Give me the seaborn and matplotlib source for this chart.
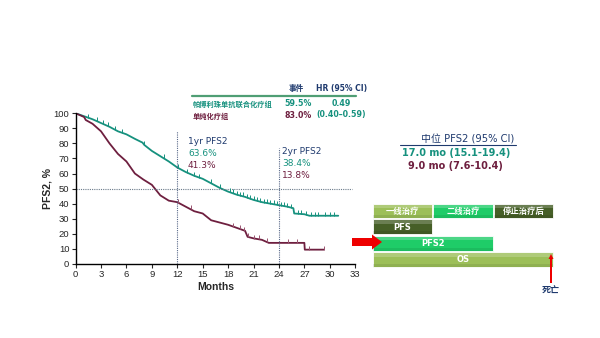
import matplotlib
matplotlib.use("Agg")
import matplotlib.pyplot as plt
import seaborn as sns
import pandas as pd
import numpy as np
from matplotlib.patches import Rectangle, FancyArrow

sns.set_style("white")
plt.rcParams['font.family'] = ['Liberation Sans', 'Noto Sans CJK SC']

TEAL = "#16917e"
MAROON = "#6e1f3f"
NAVY = "#1f3a6e"

# ---- data ----
teal_t = [0, 0.5, 1, 2, 3, 4, 5, 6, 7, 7.9, 8.1, 9, 10, 11, 12, 13, 14, 15, 16, 17, 18, 19, 20, 21, 22, 23, 24, 25, 25.7, 25.8, 27, 27.6, 31]
teal_s = [100, 99, 98, 96, 93.5, 91, 88, 86, 83, 80.5, 79, 75, 71.5, 68, 64, 61, 58.5, 56.5, 53.5, 50.5, 48, 46, 44.5, 42.5, 41, 40, 39, 38, 37, 33.5, 33, 32, 32]
teal_cens = [1.5, 2.5, 3.2, 3.8, 4.6, 5.5, 8.1, 10.4, 12.1, 13.2, 14.0, 14.6, 16.0, 17.0, 18.2, 18.6, 19.0, 19.4, 19.8, 20.2, 20.6, 21.0, 21.4, 21.8, 22.2, 22.6, 23.0, 23.4, 23.8, 24.2, 24.6, 25.0, 25.4, 26.2, 26.6, 27.2, 27.8, 28.2, 28.6, 29.4, 30.0, 30.5]
mar_t = [0, 1, 1.2, 2, 3, 4, 5, 6, 7, 8, 9, 9.5, 10, 11, 12, 12.5, 13, 14, 15, 16, 17, 18, 19, 20, 20.3, 21, 22, 22.8, 27, 27.05, 29.3]
mar_s = [100, 97.5, 95.5, 93, 88, 80, 73, 68, 60, 56, 52.5, 49, 45.5, 42, 41, 39.5, 38, 35, 33.5, 29, 27.5, 26, 24, 22, 18, 17, 16, 14, 14, 9.5, 9.5]
mar_cens = [12.1, 13.6, 18.6, 19.4, 19.9, 20.3, 21.1, 21.6, 22.6, 25.1, 26.1, 27.6, 29.3]

x_ticks = list(range(0, 34, 3))
y_ticks = list(range(0, 101, 10))


def curve_val(t, s, x):
    return float(np.interp(x, t, s))


fig = plt.figure(figsize=(6, 3.38), dpi=100)
ax = fig.add_axes([0.126, 0.219, 0.466, 0.446])

df_t = pd.DataFrame({"t": teal_t, "s": teal_s})
df_m = pd.DataFrame({"t": mar_t, "s": mar_s})
sns.lineplot(data=df_t, x="t", y="s", color=TEAL, lw=1.3, ax=ax, sort=False, estimator=None)
sns.lineplot(data=df_m, x="t", y="s", color=MAROON, lw=1.3, ax=ax, sort=False, estimator=None)

dct = pd.DataFrame({"t": teal_cens, "s": [curve_val(teal_t, teal_s, c) for c in teal_cens]})
dcm = pd.DataFrame({"t": mar_cens, "s": [curve_val(mar_t, mar_s, c) for c in mar_cens]})
ax.scatter(dct.t, dct.s + 1.3, marker="|", s=12, color=TEAL, lw=0.7, zorder=3)
ax.scatter(dcm.t, dcm.s + 1.3, marker="|", s=12, color="#9a5470", lw=0.7, zorder=3)

# reference lines
ax.plot([12, 12], [0, 88], ls=(0, (1, 1)), color="#5a6a8a", lw=0.8)
ax.plot([24, 24], [0, 77], ls=(0, (1, 1)), color="#5a6a8a", lw=0.8)
ax.plot([0, 32.6], [50, 50], ls=(0, (1, 1)), color="#6a7a8a", lw=0.8)

ax.set_xlim(0, 33)
ax.set_ylim(0, 100)
ax.set_xticks(x_ticks)
ax.set_yticks(y_ticks)
ax.tick_params(axis='both', labelsize=6.8, length=3, width=0.8, direction='out', pad=1.5)
ax.tick_params(axis='both', which='both', bottom=True, left=True)
sns.despine(ax=ax)
for sp in ["left", "bottom"]:
    ax.spines[sp].set_linewidth(1.0)
    ax.spines[sp].set_color("black")
ax.set_xlabel("Months", fontsize=7.5, fontweight="bold", labelpad=2)
ax.set_ylabel("PFS2, %", fontsize=7.5, fontweight="bold", labelpad=1)

# overlay axes in pixel coordinates
ov = fig.add_axes([0, 0, 1, 1], zorder=5)
ov.set_xlim(0, 600)
ov.set_ylim(338, 0)
ov.axis("off")
ov.patch.set_alpha(0)

fam = ['DejaVu Sans', 'Noto Sans CJK SC']
# annotations
ov.text(188, 141, "1yr PFS2", color=NAVY, fontsize=6.5, va="center", family=fam)
ov.text(188, 154, "63.6%", color=TEAL, fontsize=6.5, va="center", family=fam)
ov.text(188, 166, "41.3%", color=MAROON, fontsize=6.5, va="center", family=fam)
ov.text(282, 152, "2yr PFS2", color=NAVY, fontsize=6.5, va="center", family=fam)
ov.text(282, 164, "38.4%", color=TEAL, fontsize=6.5, va="center", family=fam)
ov.text(282, 176, "13.8%", color=MAROON, fontsize=6.5, va="center", family=fam)

# table
ov.text(296, 89, "事件", color=NAVY, fontsize=5.5, fontweight="bold", ha="center", va="center", family=fam)
ov.text(342, 89, "HR (95% CI)", color=NAVY, fontsize=5.5, fontweight="bold", ha="center", va="center", family=fam)
ov.plot([192, 356], [96, 96], color="#4f9e74", lw=1.6)
ov.text(193, 104, "帕博利珠单抗联合化疗组", color=TEAL, fontsize=5.2, fontweight="bold", va="center", family=fam)
ov.text(298, 104, "59.5%", color=TEAL, fontsize=5.7, fontweight="bold", ha="center", va="center", family=fam)
ov.text(341, 104, "0.49", color=TEAL, fontsize=5.7, fontweight="bold", ha="center", va="center", family=fam)
ov.text(193, 116, "单纯化疗组", color=MAROON, fontsize=5.2, fontweight="bold", va="center", family=fam)
ov.text(298, 116, "83.0%", color=MAROON, fontsize=5.7, fontweight="bold", ha="center", va="center", family=fam)
ov.text(341, 115, "(0.40–0.59)", color=TEAL, fontsize=5.7, fontweight="bold", ha="center", va="center", family=fam)

# median PFS2
ov.text(468, 139, "中位 PFS2 (95% CI)", color=NAVY, fontsize=7.2, ha="center", va="center", family=fam)
ov.plot([400, 516], [145, 145], color=NAVY, lw=0.8)
ov.text(456, 153, "17.0 mo (15.1-19.4)", color=TEAL, fontsize=7, fontweight="bold", ha="center", va="center", family=fam)
ov.text(455, 166, "9.0 mo (7.6-10.4)", color=MAROON, fontsize=7, fontweight="bold", ha="center", va="center", family=fam)

# diagram boxes
LIGHT = "#9cbf58"
BRIGHT = "#1fcc68"
DARK = "#465f27"
boxes = [
    (373, 204, 59, 14, LIGHT, "一线治疗"),
    (433, 204, 60, 14, BRIGHT, "二线治疗"),
    (494, 204, 59, 14, DARK, "停止治疗后"),
    (373, 219, 59, 15, DARK, "PFS"),
    (373, 236, 120, 14.5, BRIGHT, "PFS2"),
    (373, 252, 180, 15, LIGHT, "OS"),
]
for x, y, w, h, c, lab in boxes:
    ov.add_patch(Rectangle((x, y), w, h, facecolor=c, edgecolor="white", lw=0.6))
    ov.add_patch(Rectangle((x, y), w, h * 0.3, facecolor="white", alpha=0.2, lw=0))
    ov.add_patch(Rectangle((x, y + h * 0.8), w, h * 0.2, facecolor="black", alpha=0.08, lw=0))
    ov.text(x + w / 2, y + h / 2 + 0.5, lab, color="white", fontsize=6, fontweight="bold",
            ha="center", va="center", family=fam)

ov.add_patch(FancyArrow(352, 242, 30, 0, width=8, head_width=15, head_length=10,
                        length_includes_head=True, color="#ee0000", lw=0))
ov.add_patch(FancyArrow(551, 283, 0, -29, width=2, head_width=5, head_length=5,
                        length_includes_head=True, color="#ee0000", lw=0))
ov.text(551, 291, "死亡", color=NAVY, fontsize=6.5, fontweight="bold", ha="center", va="center", family=fam)

fig.savefig("out.png", dpi=100)
